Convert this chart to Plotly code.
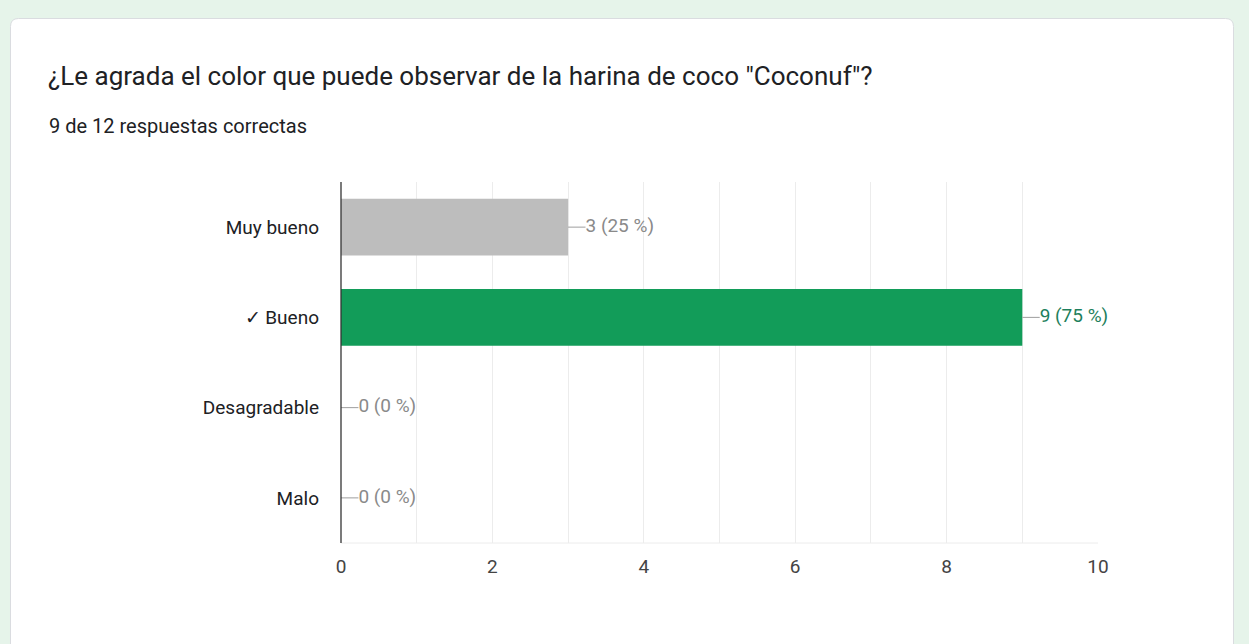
import plotly.graph_objects as go

categories = ["Muy bueno", "✓ Bueno", "Desagradable", "Malo"]
counts = [3, 9, 0, 0]
percents = [25, 75, 0, 0]
bar_colors = ["#bdbdbd", "#129c59", "#bdbdbd", "#bdbdbd"]
label_colors = ["#8a8a8a", "#1e7f5c", "#8a8a8a", "#8a8a8a"]
title_text = '¿Le agrada el color que puede observar de la harina de coco "Coconuf"?'
subtitle_text = "9 de 12 respuestas correctas"
x_ticks = [0, 2, 4, 6, 8, 10]

W, H = 1249, 644
L, R, T, B = 341, 1098, 182, 543

def px_x(p):
    return (p - L) / (R - L)

def px_y(p):
    return (B - p) / (B - T)

fig = go.Figure()
fig.add_trace(go.Bar(
    y=categories, x=counts, orientation="h",
    marker=dict(color=bar_colors, line=dict(width=0)),
    width=0.63, hoverinfo="skip", showlegend=False,
))

lead = 0.23
for c, v, p, col in zip(categories, counts, percents, label_colors):
    fig.add_trace(go.Scatter(
        x=[v, v + lead], y=[c, c], mode="lines",
        line=dict(color="#9e9e9e", width=1), hoverinfo="skip", showlegend=False,
        cliponaxis=False,
    ))
    fig.add_trace(go.Scatter(
        x=[v + lead], y=[c], mode="text", text=[f"{v} ({p} %)"],
        textposition="middle right",
        textfont=dict(family="Roboto, Arial", size=19, color=col),
        hoverinfo="skip", showlegend=False, cliponaxis=False,
    ))

# card path (rounded rectangle)
x0, y0, x1, y1, r = px_x(10.5), px_y(18.5), px_x(1233.5), px_y(700), 8 / (R - L)
ry = 8 / (B - T)
path = (f"M {x0+r},{y0} L {x1-r},{y0} Q {x1},{y0} {x1},{y0-ry} "
        f"L {x1},{y1} L {x0},{y1} L {x0},{y0-ry} Q {x0},{y0} {x0+r},{y0} Z")

fig.update_layout(
    width=W, height=H,
    margin=dict(l=L, r=W - R, t=T, b=H - B, pad=0),
    paper_bgcolor="#e6f4ea",
    plot_bgcolor="rgba(0,0,0,0)",
    font=dict(family="Roboto, Arial", size=19, color="#202124"),
    bargap=0.37,
    xaxis=dict(
        range=[0, 10], tickvals=x_ticks, showgrid=False,
        minor=dict(dtick=1, showgrid=True, gridcolor="#ececec", gridwidth=1),
        zeroline=False, showline=False, ticks="",
        ticklabelstandoff=10,
        tickfont=dict(size=19, color="#444444"),
    ),
    yaxis=dict(
        categoryorder="array", categoryarray=categories[::-1],
        showgrid=False, zeroline=False, showline=False, ticks="",
        ticklabelstandoff=21, tickfont=dict(size=19, color="#202124"),
    ),
    shapes=[
        dict(type="path", path=path, xref="paper", yref="paper",
             fillcolor="white", line=dict(color="#dadce0", width=1), layer="below"),
        dict(type="line", xref="paper", yref="paper", x0=0, x1=1, y0=0, y1=0,
             line=dict(color="#ececec", width=1)),
        dict(type="line", xref="paper", yref="paper", x0=0, x1=0, y0=0, y1=1,
             line=dict(color="#333333", width=1.3)),
    ],
    annotations=[
        dict(text=title_text, xref="paper", yref="paper", x=px_x(46), y=px_y(76),
             xanchor="left", yanchor="middle", showarrow=False,
             font=dict(family="Roboto, Arial", size=26, color="#202124")),
        dict(text=subtitle_text, xref="paper", yref="paper", x=px_x(47), y=px_y(126),
             xanchor="left", yanchor="middle", showarrow=False,
             font=dict(family="Roboto, Arial", size=20, color="#202124")),
    ],
)

fig.write_html("out.html")
